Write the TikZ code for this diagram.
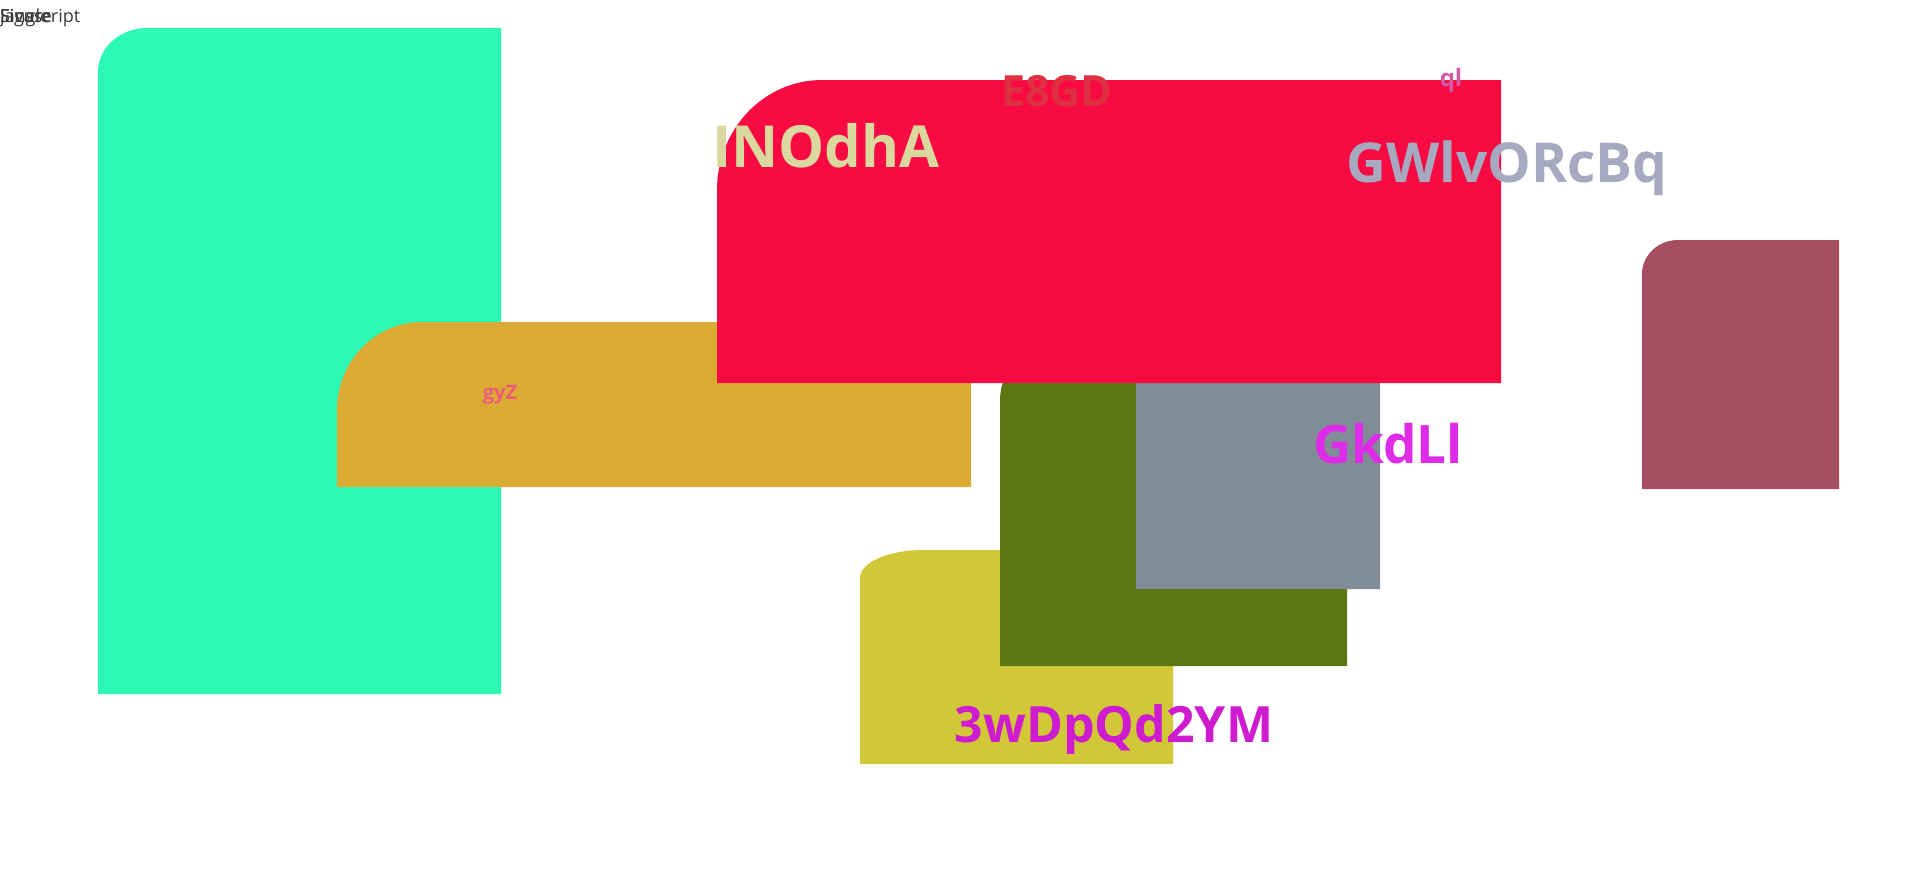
\documentclass[tikz,border=0pt]{standalone}
\usepackage{fontspec}
\setmainfont{Open Sans}
\usepackage{xcolor}
\usepackage{tikz}
\usetikzlibrary{positioning, calc}

\definecolor{cyanbox}{HTML}{2DF9B7}
\definecolor{orangebox}{HTML}{DAAA33}
\definecolor{yellowbox}{HTML}{D1C737}
\definecolor{olivebox}{HTML}{5D7614}
\definecolor{graybox}{HTML}{808D96}
\definecolor{redbox}{HTML}{F80B43}
\definecolor{maroonbox}{HTML}{A54D61}
\definecolor{inodhacol}{HTML}{DAD89E}
\definecolor{egdcol}{HTML}{DE3040}
\definecolor{qlcol}{HTML}{CF5BA9}
\definecolor{gwlvcol}{HTML}{A6A9C0}
\definecolor{gkdcol}{HTML}{DD2BE8}
\definecolor{wdpcol}{HTML}{CE1BD0}
\definecolor{gyzcol}{HTML}{EE5B7A}
\definecolor{capgray}{HTML}{3A3A3A}

\newcommand{\fsz}[1]{\fontsize{#1}{#1}\selectfont\bfseries}

\begin{document}
\begin{tikzpicture}[
    x=1pt, y=-1pt,
    tag/.style={inner sep=0pt, anchor=base},
    corner/.style={inner sep=0pt, anchor=base west, text=capgray, font=\fontsize{18}{18}\selectfont}
]

% Canvas
\useasboundingbox (0,0) rectangle (1920,870);

% Boxes, back to front, top left corner rounded
\foreach \name/\xl/\yt/\xr/\yb/\ra/\rb in {cyanbox/98/28/501/694/49/44, orangebox/337/322/971/487/85/88, yellowbox/860/550/1173/764/63/28, olivebox/1000/345/1347/666/55/55, graybox/1136/370/1380/589/0/0, redbox/717/80/1501/383/105/110, maroonbox/1642/240/1839/489/36/34} {
    \fill[\name] (\xl,\yb) -- (\xl,\yt+\rb) .. controls (\xl,\yt+0.4477*\rb) and (\xl+0.4477*\ra,\yt) .. (\xl+\ra,\yt) -- (\xr,\yt) -- (\xr,\yb) -- cycle;
}

% Text at top left
\node[corner] (js) at (0,22) {javascript};
\node[corner] (fig) at (0,22) {Figure};
\node[corner] (sgl) at (0,22) {Single};

% Labels
\node[tag, text=inodhacol, font=\fsz{58}] (inodha) at (826,167) {INOdhA};
\node[tag, text=egdcol, font=\fsz{43}] (egd) at (1057,106) {E8GD};
\node[tag, text=qlcol, font=\fsz{24}] (ql) at (1451,86) {ql};
\node[tag, text=gwlvcol, font=\fsz{55}] (gwlv) at (1507,182) {GWlvORcBq};
\node[tag, text=gkdcol, font=\fsz{53}] (gkd) at (1388,463) {GkdLl};
\node[tag, text=wdpcol, font=\fsz{50}] (wdp) at (1114,742) {3wDpQd2YM};
\node[tag, text=gyzcol, font=\fsz{20}] (gyz) at (500,399) {gyZ};

\end{tikzpicture}
\end{document}
